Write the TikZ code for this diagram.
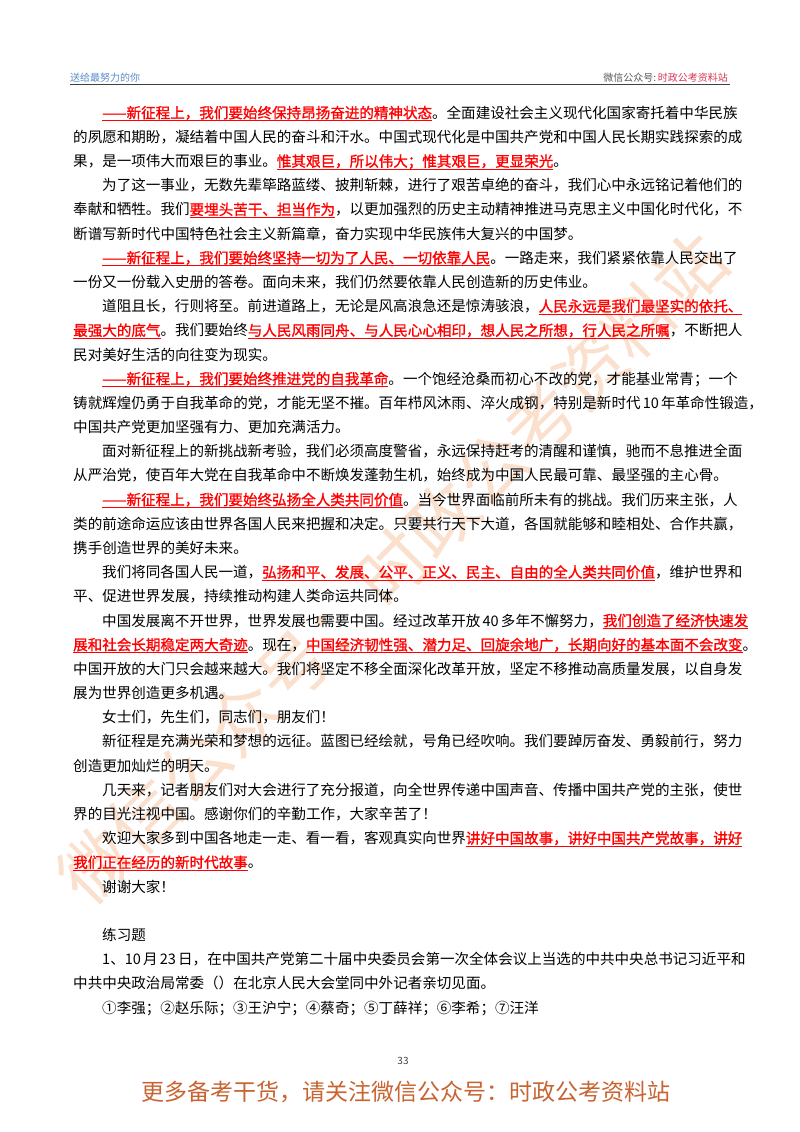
\documentclass[tikz,border=0pt]{standalone}
\usepackage{fontspec}
\usepackage{xcolor}
\setmainfont{Noto Sans CJK SC}
\newfontfamily\bfcjk{Noto Sans CJK SC}[FakeBold=1.2]
\XeTeXlinebreaklocale "zh"
\XeTeXlinebreakskip=0pt plus 3pt minus 0.4pt
\definecolor{wmark}{RGB}{250,224,205}
\definecolor{hblue}{RGB}{90,140,200}
\definecolor{hred}{RGB}{215,55,85}
\definecolor{foot}{RGB}{200,100,50}
\newcommand\R[1]{{\color{red}\setbox0\hbox{\bfcjk #1}\rlap{\rule[-3pt]{\wd0}{1.1pt}}\box0}}
\newcommand\LF[3]{\node[body] at (#1,#2) {\hbox to \dimexpr 729pt-#1pt\relax{#3}};}
\newcommand\LN[3]{\node[body] at (#1,#2) {#3};}
\tikzset{body/.style={anchor=base west,inner sep=0pt,text=black,font=\fontsize{14.55}{16}\selectfont}}
\begin{document}
\begin{tikzpicture}[x=1pt,y=-1pt]
\useasboundingbox (0,0) rectangle (800,1132);
\fill[white] (0,0) rectangle (800,1132);
% watermark
\node[rotate=45,text=wmark,font=\fontsize{70}{70}\selectfont,inner sep=0] (wm) at (392,568) {微信公众号：时政公考资料站};
% header
\node[anchor=base west,inner sep=0,text=hblue,font=\fontsize{10}{12}\selectfont] (hl) at (70,81.5) {送给最努力的你};
\node[anchor=base east,inner sep=0,font=\fontsize{10}{12}\selectfont] (hr) at (728,81.5) {{\color{black!65}微信公众号:}\,{\color{hred}时政公考资料站}};
\draw[black!75,line width=1.3pt] (70,84.5) -- (730,84.5);
% body
\LF{102}{118.2}{\R{——新征程上，我们要始终保持昂扬奋进的精神状态}。全面建设社会主义现代化国家寄托着中华民族}
\LF{73}{142.4}{的夙愿和期盼，凝结着中国人民的奋斗和汗水。中国式现代化是中国共产党和中国人民长期实践探索的成}
\LN{73}{166.6}{果，是一项伟大而艰巨的事业。\R{惟其艰巨，所以伟大；惟其艰巨，更显荣光}。}
\LF{102}{190.7}{为了这一事业，无数先辈筚路蓝缕、披荆斩棘，进行了艰苦卓绝的奋斗，我们心中永远铭记着他们的}
\LF{73}{214.9}{奉献和牺牲。我们\R{要埋头苦干、担当作为}，以更加强烈的历史主动精神推进马克思主义中国化时代化，不}
\LN{73}{239.1}{断谱写新时代中国特色社会主义新篇章，奋力实现中华民族伟大复兴的中国梦。}
\LF{102}{263.3}{\R{——新征程上，我们要始终坚持一切为了人民、一切依靠人民}。一路走来，我们紧紧依靠人民交出了}
\LN{73}{287.5}{一份又一份载入史册的答卷。面向未来，我们仍然要依靠人民创造新的历史伟业。}
\LF{102}{311.6}{道阻且长，行则将至。前进道路上，无论是风高浪急还是惊涛骇浪，\R{人民永远是我们最坚实的依托、}}
\LF{73}{335.8}{\R{最强大的底气}。我们要始终\R{与人民风雨同舟、与人民心心相印，想人民之所想，行人民之所嘱}，不断把人}
\LN{73}{360.0}{民对美好生活的向往变为现实。}
\LF{102}{384.2}{\R{——新征程上，我们要始终推进党的自我革命}。一个饱经沧桑而初心不改的党，才能基业常青；一个}
\LF{73}{408.4}{铸就辉煌仍勇于自我革命的党，才能无坚不摧。百年栉风沐雨、淬火成钢，特别是新时代 10 年革命性锻造，}
\LN{73}{432.5}{中国共产党更加坚强有力、更加充满活力。}
\LF{102}{456.7}{面对新征程上的新挑战新考验，我们必须高度警省，永远保持赶考的清醒和谨慎，驰而不息推进全面}
\LN{73}{480.9}{从严治党，使百年大党在自我革命中不断焕发蓬勃生机，始终成为中国人民最可靠、最坚强的主心骨。}
\LF{102}{505.1}{\R{——新征程上，我们要始终弘扬全人类共同价值}。当今世界面临前所未有的挑战。我们历来主张，人}
\LF{73}{529.3}{类的前途命运应该由世界各国人民来把握和决定。只要共行天下大道，各国就能够和睦相处、合作共赢，}
\LN{73}{553.4}{携手创造世界的美好未来。}
\LF{102}{577.6}{我们将同各国人民一道，\R{弘扬和平、发展、公平、正义、民主、自由的全人类共同价值}，维护世界和}
\LN{73}{601.8}{平、促进世界发展，持续推动构建人类命运共同体。}
\LF{102}{626.0}{中国发展离不开世界，世界发展也需要中国。经过改革开放 40 多年不懈努力，\R{我们创造了经济快速发}}
\LF{73}{650.2}{\R{展和社会长期稳定两大奇迹}。现在，\R{中国经济韧性强、潜力足、回旋余地广，长期向好的基本面不会改变}。}
\LF{73}{674.3}{中国开放的大门只会越来越大。我们将坚定不移全面深化改革开放，坚定不移推动高质量发展，以自身发}
\LN{73}{698.5}{展为世界创造更多机遇。}
\LN{102}{722.7}{女士们，先生们，同志们，朋友们！}
\LF{102}{746.9}{新征程是充满光荣和梦想的远征。蓝图已经绘就，号角已经吹响。我们要踔厉奋发、勇毅前行，努力}
\LN{73}{771.1}{创造更加灿烂的明天。}
\LF{102}{795.2}{几天来，记者朋友们对大会进行了充分报道，向全世界传递中国声音、传播中国共产党的主张，使世}
\LN{73}{819.4}{界的目光注视中国。感谢你们的辛勤工作，大家辛苦了！}
\LF{102}{843.6}{欢迎大家多到中国各地走一走、看一看，客观真实向世界\R{讲好中国故事，讲好中国共产党故事，讲好}}
\LN{73}{867.8}{\R{我们正在经历的新时代故事}。}
\LN{102}{892.0}{谢谢大家！}
\LN{102}{940.5}{练习题}
\LF{102}{964.7}{1、10 月 23 日，在中国共产党第二十届中央委员会第一次全体会议上当选的中共中央总书记习近平和}
\LN{73}{988.9}{中共中央政治局常委（）在北京人民大会堂同中外记者亲切见面。}
\LN{102}{1013.1}{①李强；②赵乐际；③王沪宁；④蔡奇；⑤丁薛祥；⑥李希；⑦汪洋}
% footer
\node[inner sep=0,font=\fontsize{10}{12}\selectfont,text=black!75] (pg) at (403,1061) {33};
\node[inner sep=0,font=\fontsize{23}{26}\selectfont,text=foot] (ft) at (406,1092) {更多备考干货，请关注微信公众号：时政公考资料站};
\end{tikzpicture}
\end{document}
